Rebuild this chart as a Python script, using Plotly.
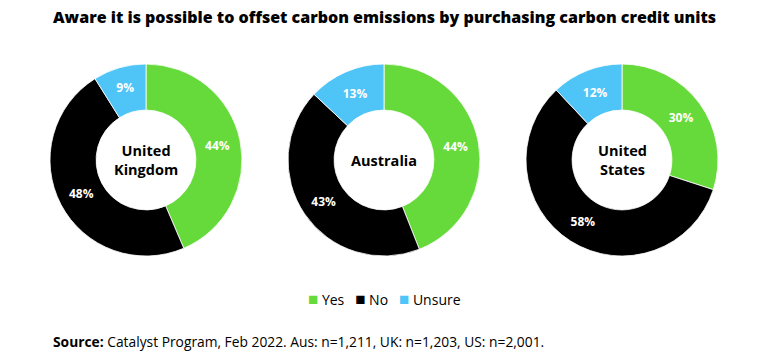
import plotly.graph_objects as go

title = "Aware it is possible to offset carbon emissions by purchasing carbon credit units"
labels = ["Yes", "No", "Unsure"]
countries = ["United<br>Kingdom", "Australia", "United<br>States"]
uk = [44, 48, 9]
aus = [44, 43, 13]
us = [30, 58, 12]
colors = ["#66D93B", "#000000", "#4FC4F7"]
source = "<b>Source:</b> Catalyst Program, Feb 2022. Aus: n=1,211, UK: n=1,203, US: n=2,001."

W, H = 768, 362
FONT = "Open Sans"
centers_x = [146, 384, 622]
cy = 160
R = 96

fig = go.Figure()
for i, (vals, name) in enumerate(zip([uk, aus, us], countries)):
    cx = centers_x[i]
    fig.add_trace(go.Pie(
        labels=labels, values=vals, hole=0.52, sort=False, direction="clockwise",
        rotation=0,
        marker=dict(colors=colors, line=dict(color="white", width=0.8)),
        texttemplate="%{value}%", textposition="inside",
        insidetextorientation="horizontal",
        textfont=dict(family=FONT, size=12, color="white", weight="bold"),
        domain=dict(x=[(cx - R) / W, (cx + R) / W], y=[1 - (cy + R) / H, 1 - (cy - R) / H]),
        showlegend=False, hoverinfo="label+value",
    ))
    fig.add_annotation(x=cx / W, y=1 - cy / H, xref="paper", yref="paper", text=f"<b>{name}</b>",
                       xanchor="center", yanchor="middle",
                       showarrow=False, font=dict(family=FONT, size=14.5, color="black"))

fig.add_annotation(x=0.5, y=1 - 17 / H, xref="paper", yref="paper", text=title,
                   xanchor="center", yanchor="middle",
                   showarrow=False, font=dict(family=FONT, size=16, color="black", weight=800))
fig.add_annotation(x=51 / W, y=1 - 341 / H, xref="paper", yref="paper", text=source,
                   xanchor="left", yanchor="middle",
                   showarrow=False, font=dict(family=FONT, size=13.8, color="black"))

legend_txt = "&nbsp;&nbsp;&nbsp;".join(
    f"<span style='color:{c};font-size:17px'>■</span>&nbsp;{l}" for c, l in zip(colors, labels))
fig.add_annotation(x=0.5, y=1 - 298 / H, xref="paper", yref="paper", text=legend_txt,
                   xanchor="center", yanchor="middle",
                   showarrow=False, font=dict(family=FONT, size=14, color="black"))

fig.update_layout(
    width=W, height=H, margin=dict(l=0, r=0, t=0, b=0),
    paper_bgcolor="white", plot_bgcolor="white", showlegend=False,
)
fig.write_html("out.html", config={"displayModeBar": False},
               post_script="document.body.style.margin='0';")
